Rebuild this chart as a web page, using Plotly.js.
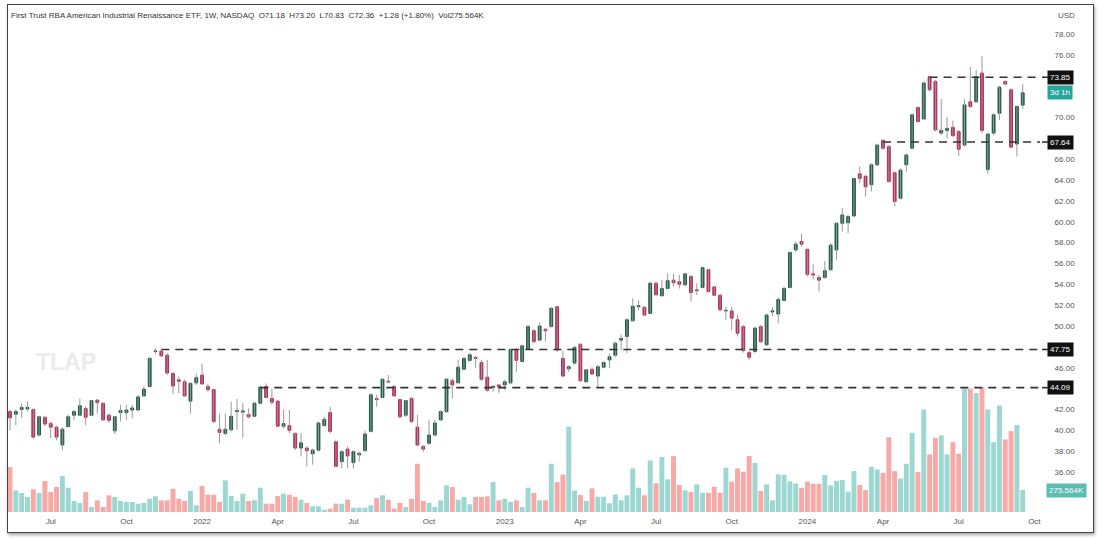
<!DOCTYPE html>
<html><head><meta charset="utf-8">
<script src="https://cdn.plot.ly/plotly-3.0.1.min.js"></script>
<style>
html,body{margin:0;padding:0;background:#fff;overflow:hidden;}
#chart{position:absolute;left:0;top:0;width:1102px;height:538px;}
#frame{position:absolute;left:7px;top:4px;width:1085px;height:527px;border:1px solid #444;box-shadow:1px 2px 3px rgba(0,0,0,0.35);pointer-events:none;}
</style></head><body>
<div id="chart"></div><div id="frame"></div>
<script>
// Weekly bars, first bar week of 2021-05-17
const firstWeek = '2021-05-17';
const opens = [41.8,41.55,42.0,42.05,42.0,39.55,41.25,40.65,40.3,38.6,
40.35,41.45,41.45,42.1,41.45,42.9,42.6,41.45,39.95,41.7,
41.7,41.95,41.95,43.3,44.2,47.55,47.6,47.2,45.45,44.85,
44.65,42.8,44.55,45.3,44.2,43.9,40.1,39.7,40.05,41.8,
41.75,41.5,41.35,42.6,44.2,43.05,42.8,40.4,40.45,39.7,
38.3,38.3,37.75,38.1,40.45,41.7,38.9,37.0,38.2,36.9,
37.65,38.05,39.9,43.05,43.15,44.7,44.2,42.95,41.45,43.05,
40.3,38.45,38.75,39.55,41.0,41.8,44.75,44.55,45.85,46.7,
47.0,46.5,45.1,44.1,44.35,44.35,44.55,47.75,46.6,47.75,
49.55,48.65,49.7,49.95,51.85,46.9,45.9,46.45,48.25,44.65,
45.85,45.2,46.05,46.75,47.2,48.65,49.0,50.5,51.85,51.8,
51.2,54.1,52.9,53.6,54.4,54.25,53.95,54.75,53.4,53.7,
55.4,53.75,52.95,51.45,51.45,50.6,49.95,47.45,47.55,49.95,
48.2,51.35,51.15,52.45,53.7,57.3,58.1,57.35,55.0,54.65,
54.65,55.4,57.3,59.85,59.9,60.55,64.6,64.35,63.55,65.45,
67.8,67.2,64.7,62.25,65.45,67.05,70.95,69.85,73.9,73.45,
68.5,68.75,69.05,68.65,67.35,71.5,71.5,74.25,65.0,68.5,
70.4,73.45,72.65,67.45,71.18];
const highs = [42.0,42.0,42.6,42.75,42.1,41.4,41.4,40.85,40.45,40.3,
41.5,41.95,43.05,42.3,42.9,43.0,42.65,41.6,41.4,42.45,
42.45,42.45,43.4,44.2,47.0,47.85,47.75,47.4,45.6,45.15,
44.85,44.6,45.45,46.4,44.5,43.95,41.6,41.6,42.75,43.0,
42.6,42.1,42.75,44.2,44.5,44.0,42.9,42.0,41.95,39.8,
39.75,38.45,38.2,40.85,41.3,42.25,39.05,38.1,38.45,38.1,
37.95,39.95,43.55,43.4,45.0,45.3,44.35,43.05,42.9,43.2,
41.5,38.6,41.0,41.0,41.9,45.0,45.0,46.75,47.05,47.4,
47.1,46.75,46.75,44.35,44.45,44.85,47.85,47.85,48.2,50.1,
49.7,50.35,49.75,51.8,51.9,47.65,46.25,48.1,48.35,45.9,
46.05,46.25,46.6,47.35,48.5,49.2,50.75,52.65,52.5,51.9,
54.25,54.25,54.4,55.05,55.0,54.9,55.1,54.9,54.1,55.7,
55.45,53.85,53.1,51.85,51.85,51.05,50.1,47.65,49.95,50.1,
51.2,51.8,52.75,53.8,57.15,58.1,58.85,57.45,55.9,54.9,
56.25,57.95,59.9,61.3,60.65,64.2,65.3,64.5,65.6,67.5,
67.9,67.35,64.8,65.1,66.55,70.4,71.05,73.45,74.0,73.6,
71.75,70.05,69.7,68.8,71.75,74.85,74.55,75.9,68.55,70.4,
73.05,73.55,72.8,71.05,73.2];
const lows = [40.0,40.5,41.2,41.8,39.2,39.4,40.4,39.25,39.05,38.1,
40.3,41.0,41.35,40.5,41.35,41.6,40.9,40.7,39.65,40.85,
41.0,41.15,41.85,43.2,44.1,47.35,47.0,45.3,43.5,43.55,
43.2,41.6,44.35,44.35,43.7,40.7,38.75,39.55,39.9,40.05,
39.3,41.15,41.25,42.5,43.1,42.45,40.3,40.15,39.75,38.1,
37.5,36.5,36.7,38.0,40.35,39.7,36.45,36.35,36.35,36.35,
37.0,37.95,39.8,42.25,43.1,44.5,43.2,41.15,41.3,40.7,
38.45,37.95,38.6,39.4,40.9,41.65,43.05,44.5,45.8,46.6,
46.0,44.75,43.7,43.7,43.55,43.85,44.45,45.6,46.5,47.7,
48.35,48.6,48.5,49.85,47.55,45.1,45.6,46.3,44.65,44.55,
45.3,44.15,45.95,45.95,47.05,47.7,47.4,50.4,51.5,50.95,
51.15,52.9,52.85,53.5,53.8,53.6,53.8,52.35,52.95,53.6,
53.2,52.9,51.4,50.6,49.6,49.0,47.45,46.75,47.45,48.35,
48.1,50.95,50.25,52.35,53.6,57.1,57.6,54.75,54.45,53.3,
54.55,55.3,56.35,59.05,58.9,60.45,63.7,62.4,62.9,65.35,
66.9,63.75,61.45,62.15,64.8,66.95,69.5,69.75,72.5,68.65,
68.3,68.0,68.1,66.3,67.2,70.9,71.4,68.5,64.6,68.3,
69.75,73.1,67.05,66.25,70.83];
const closes = [41.2,41.8,42.2,42.2,39.35,41.3,40.6,40.3,39.35,40.1,
41.3,41.8,42.35,41.25,42.85,42.65,41.0,40.95,41.3,41.9,
41.95,42.15,43.2,43.95,46.9,47.6,47.15,45.5,44.25,44.7,
43.3,44.5,45.05,44.45,43.9,40.85,39.8,40.1,41.35,41.9,
41.85,41.3,42.6,44.15,43.15,42.7,40.4,40.65,40.0,38.3,
38.8,38.05,38.1,40.7,41.05,39.9,36.55,37.95,37.55,37.95,
37.8,39.65,43.4,42.95,44.9,44.65,43.3,41.3,42.85,40.85,
38.6,38.2,39.55,40.7,41.8,44.9,44.35,46.05,46.9,47.25,
46.9,44.9,43.85,44.2,44.15,44.65,47.75,46.7,48.1,49.95,
48.5,50.0,49.55,51.7,47.7,45.2,46.1,47.95,44.75,45.8,
45.4,46.1,46.5,47.05,48.35,48.8,50.6,51.9,51.95,51.05,
54.1,53.0,53.6,54.35,54.15,54.0,55.0,53.2,53.45,55.6,
53.3,52.95,51.55,51.5,50.75,49.3,47.65,47.0,49.8,48.5,
51.05,51.45,52.55,53.6,57.05,57.85,57.85,54.95,54.9,54.4,
55.3,57.75,59.85,60.65,60.5,64.15,64.15,63.35,65.45,67.35,
67.05,63.85,61.95,64.95,66.4,70.25,69.6,73.3,72.65,68.8,
68.75,68.95,68.25,66.95,71.2,71.05,73.9,68.75,68.4,70.25,
72.9,73.2,67.15,71.05,72.36];
// Volume in thousands
const volumes = [563,271,238,188,284,238,388,250,313,450,
304,138,113,250,63,146,63,209,188,138,
125,125,104,113,166,196,146,146,291,166,
138,263,84,325,216,216,125,396,200,138,
229,138,146,304,104,104,200,229,216,188,
154,113,71,71,29,41,104,104,154,54,
54,54,84,175,209,154,41,113,63,166,
604,138,113,63,146,334,313,154,188,96,
188,188,196,375,146,166,125,146,63,304,
238,146,146,604,375,469,1069,269,213,138,
296,191,191,109,221,146,209,546,304,209,
646,359,688,409,700,338,271,250,346,241,
241,316,241,554,379,546,504,700,616,263,
346,146,471,466,384,356,300,379,354,354,
463,334,388,400,254,513,338,275,566,534,
491,938,513,421,604,991,500,1284,721,929,
959,721,875,729,1546,1546,1491,1563,1284,875,
1334,909,1013,1088,275.564];

const levelValues = [73.85, 67.64, 47.75, 44.09];
const levelStartBar = [158, 150, 26, 43];
const yTickVals = [36,38,40,42,46,50,52,54,56,58,60,62,64,66,70,76,78];
const xTickDates = ['2021-07-05','2021-10-04','2022-01-03','2022-04-04','2022-07-04','2022-10-03','2023-01-02','2023-04-03','2023-07-03','2023-10-02','2024-01-01','2024-04-01','2024-07-01','2024-09-30'];
const xTickLabels = ['Jul','Oct','2022','Apr','Jul','Oct','2023','Apr','Jul','Oct','2024','Apr','Jul','Oct'];
const titleText = 'First Trust RBA American Industrial Renaissance ETF, 1W, NASDAQ&nbsp;&nbsp;O71.18&nbsp;&nbsp;H73.20&nbsp;&nbsp;L70.83&nbsp;&nbsp;C72.36&nbsp;&nbsp;+1.28 (+1.80%)&nbsp;&nbsp;Vol275.564K';

// ---- build ----
const t0 = Date.UTC(2021, 4, 17);
const dates = opens.map((_, i) => new Date(t0 + i * 7 * 86400000).toISOString().slice(0, 10));
const UP = '#1f5c45', DOWN = '#b92a5b';
const VUP = 'rgba(38,166,154,0.45)', VDOWN = 'rgba(239,83,80,0.5)';
const volColors = opens.map((o, i) => closes[i] >= o ? VUP : VDOWN);

const wx = [], wy = [];
dates.forEach((d, i) => { wx.push(d, d, null); wy.push(lows[i], highs[i], null); });

const xRange = ['2021-05-14 14:00', '2024-10-06 19:00'];

const traces = [
  {type: 'bar', x: dates, y: volumes, yaxis: 'y2', marker: {color: volColors, line: {width: 0}}, hoverinfo: 'skip'},
  {type: 'scatter', mode: 'lines', x: wx, y: wy, line: {color: '#9a9a9a', width: 1}, hoverinfo: 'skip', connectgaps: false},
  {type: 'candlestick', x: dates, open: opens, close: closes,
   high: opens.map((o, i) => Math.max(o, closes[i])), low: opens.map((o, i) => Math.min(o, closes[i])),
   increasing: {line: {color: UP, width: 1}, fillcolor: UP},
   decreasing: {line: {color: DOWN, width: 1}, fillcolor: DOWN},
   whiskerwidth: 0, hoverinfo: 'skip'}
];

const shapes = [], annotations = [];
levelValues.forEach((v, k) => {
  shapes.push({type: 'line', xref: 'x', yref: 'y', x0: dates[levelStartBar[k]], x1: xRange[1], y0: v, y1: v,
    line: {color: '#333', width: 1.6, dash: '8px,6px'}});
  shapes.push({type: 'line', xref: 'paper', yref: 'y', x0: 1.002, x1: 1.0075, y0: v, y1: v, line: {color: '#222', width: 1.5}});
  annotations.push({xref: 'paper', yref: 'y', x: 1, y: v, xanchor: 'left', xshift: 7, text: v.toFixed(2), showarrow: false,
    bgcolor: '#111', borderpad: 2, font: {color: '#fff', size: 8, family: 'Liberation Sans, Arial, sans-serif'}});
});
const last = opens.length - 1;
annotations.push({xref: 'paper', yref: 'y', x: 1, y: closes[last], xanchor: 'left', xshift: 7, text: '3d 1h', showarrow: false,
  bgcolor: '#26a69a', borderpad: 2, font: {color: '#fff', size: 8, family: 'Liberation Sans, Arial, sans-serif'}});
annotations.push({xref: 'paper', yref: 'y2', x: 1, y: volumes[last], xanchor: 'left', xshift: 6, text: volumes[last].toFixed(3) + 'K', showarrow: false,
  bgcolor: '#5dbdb2', borderpad: 2, font: {color: '#fff', size: 8, family: 'Liberation Sans, Arial, sans-serif'}});
annotations.push({xref: 'paper', yref: 'paper', x: 1, y: 1, xanchor: 'left', yanchor: 'middle', xshift: 16, yshift: -7, text: 'USD', showarrow: false,
  font: {color: '#555', size: 8, family: 'Liberation Sans, Arial, sans-serif'}});
annotations.push({xref: 'paper', yref: 'paper', x: 0, y: 1, xanchor: 'left', yanchor: 'middle', xshift: 1, yshift: -7, text: titleText, showarrow: false,
  font: {color: '#333', size: 8, family: 'Liberation Sans, Arial, sans-serif'}});
annotations.push({xref: 'paper', yref: 'paper', x: 0.0562, y: 0.2976, xanchor: 'center', yanchor: 'middle', text: '<b>TLAP</b>', showarrow: false,
  font: {color: '#ebebeb', size: 23, family: 'Liberation Sans, Arial, sans-serif'}});

const layout = {
  width: 1102, height: 538,
  margin: {l: 8, r: 62, t: 8, b: 26},
  paper_bgcolor: 'rgba(0,0,0,0)', plot_bgcolor: '#fff',
  showlegend: false, bargap: 0.15, boxgap: 0.3,
  font: {family: 'Liberation Sans, Arial, sans-serif', size: 8, color: '#555'},
  xaxis: {type: 'date', range: xRange, rangeslider: {visible: false}, showgrid: false, zeroline: false, showline: false,
    tickmode: 'array', tickvals: xTickDates, ticktext: xTickLabels, ticks: 'outside', ticklen: 1, tickcolor: 'rgba(0,0,0,0)',
    tickfont: {size: 8, color: '#555'}, fixedrange: true},
  yaxis: {side: 'right', range: [32.17, 80.49], showgrid: false, zeroline: false, showline: false,
    tickmode: 'array', tickvals: yTickVals, ticktext: yTickVals.map(v => v.toFixed(2)),
    ticks: 'outside', ticklen: 12, tickcolor: 'rgba(0,0,0,0)', tickfont: {size: 8, color: '#555'}, fixedrange: true},
  yaxis2: {overlaying: 'y', range: [0, 6313], visible: false, fixedrange: true},
  shapes: shapes, annotations: annotations
};
Plotly.newPlot('chart', traces, layout, {staticPlot: true, displayModeBar: false});
</script>
</body></html>
